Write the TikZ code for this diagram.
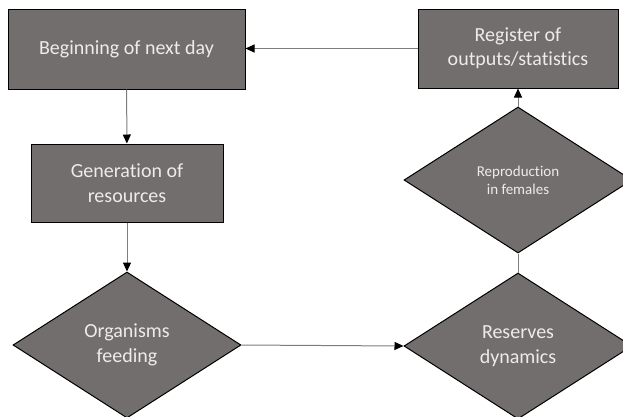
\documentclass[tikz,border=0pt]{standalone}
\usepackage{fontspec}
\setmainfont{Carlito}[Ligatures=NoCommon]
\usetikzlibrary{shapes.geometric,arrows.meta,positioning}
\definecolor{boxgray}{RGB}{114,110,109}
\definecolor{textgray}{RGB}{236,236,236}
\definecolor{linegray}{RGB}{125,125,125}

\begin{document}
\begin{tikzpicture}[
    x=1pt, y=-1pt,
    every node/.style={font=\fontsize{20}{24.4}\selectfont, text=textgray, align=center},
    stepbox/.style={rectangle, draw=black, line width=1pt, fill=boxgray, inner sep=0pt},
    decision/.style={diamond, draw=black, line width=1pt, fill=boxgray, inner sep=0pt,
        minimum width=228pt, minimum height=146pt},
    arrow/.style={-{Triangle[length=9pt, width=8pt, color=black]}, draw=linegray, line width=1pt}
]

    % Frame of the picture
    \useasboundingbox (0,0) rectangle (623,416);
    \clip (0,0) rectangle (623,416);

    % Left column (day, resources, feeding)
    \node[stepbox, minimum width=237pt, minimum height=80pt] (day) at (126.5,49) {Beginning of next day};
    \node[stepbox, minimum width=192pt, minimum height=78pt] (gen) at (127,183) {Generation of\\resources};
    \node[decision] (feed) at (127,345) {Organisms\\feeding};

    % Right column (reserves, reproduction, register)
    \node[decision] (reserve) at (518,346) {Reserves\\dynamics};
    \node[decision, font=\fontsize{15}{18.3}\selectfont] (repro) at (518,180) {Reproduction\\in females};
    \node[stepbox, minimum width=200pt, minimum height=79pt] (stats) at (518,48.5) {Register of\\outputs/statistics};

    % Arrows down the left column
    \draw[arrow] (day) -- (gen);
    \draw[arrow] (gen) -- (feed);

    % Across and up the right column
    \draw[arrow] (feed.east) -- (reserve.west);
    \draw[draw=linegray, line width=1pt] (reserve.north) -- (repro.south);
    \draw[arrow] (repro.north) -- (stats.south);

    % Back to the next day
    \draw[arrow] (stats.west) -- (stats.west -| day.east);

\end{tikzpicture}
\end{document}
